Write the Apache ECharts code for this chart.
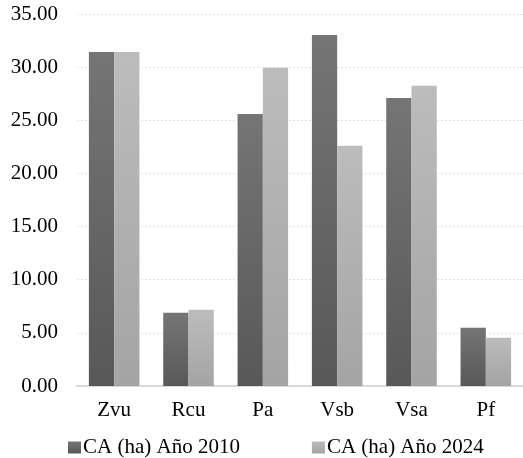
<!DOCTYPE html>
<html><head><meta charset="utf-8">
<script src="https://cdn.jsdelivr.net/npm/echarts@6/dist/echarts.min.js"></script>
<style>html,body{margin:0;padding:0;background:#fff}#c{width:523px;height:458px}</style>
</head><body><div id="c"></div>
<script>
var categories = ['Zvu', 'Rcu', 'Pa', 'Vsb', 'Vsa', 'Pf'];
var seriesNames = ['CA (ha) Año 2010', 'CA (ha) Año 2024'];
var values2010 = [31.42, 6.89, 25.60, 33.02, 27.10, 5.48];
var values2024 = [31.42, 7.17, 29.95, 22.60, 28.25, 4.54];
var yTicks = [0, 5, 10, 15, 20, 25, 30, 35];

function grad(top, bottom) {
  return new echarts.graphic.LinearGradient(0, 0, 0, 1, [
    {offset: 0, color: top}, {offset: 1, color: bottom}
  ]);
}
var font = 'Liberation Serif';
var chart = echarts.init(document.getElementById('c'), null, {renderer: 'canvas'});
chart.setOption({
  animation: false,
  backgroundColor: '#ffffff',
  textStyle: {fontFamily: font},
  grid: {left: 77, right: -4, top: 14, bottom: 72, containLabel: false},
  legend: {
    left: 63, top: 432, itemWidth: 13, itemHeight: 12, itemGap: 72,
    icon: 'rect',
    textStyle: {fontFamily: font, fontSize: 21, color: '#000', padding: [0, 0, 0, -3]},
    data: seriesNames
  },
  xAxis: {
    type: 'category', data: categories,
    axisLine: {lineStyle: {color: '#d6d9de', width: 2}},
    axisTick: {show: false},
    axisLabel: {fontFamily: font, fontSize: 21, color: '#000', margin: 14}
  },
  yAxis: {
    type: 'value', min: yTicks[0], max: yTicks[yTicks.length - 1], interval: 5,
    axisLine: {show: false}, axisTick: {show: false},
    splitLine: {lineStyle: {color: '#e3e3e3', type: [2, 2], width: 1}},
    axisLabel: {fontFamily: font, fontSize: 21, color: '#000', margin: 19,
      formatter: function (v) { return v.toFixed(2); }}
  },
  series: [
    {name: seriesNames[0], type: 'bar', data: values2010, barGap: '0%', barCategoryGap: '32%',
     itemStyle: {color: grad('#757575', '#585858')}},
    {name: seriesNames[1], type: 'bar', data: values2024, barGap: '0%', barCategoryGap: '32%',
     itemStyle: {color: grad('#bcbcbc', '#a4a4a4')}}
  ]
});
</script></body></html>
